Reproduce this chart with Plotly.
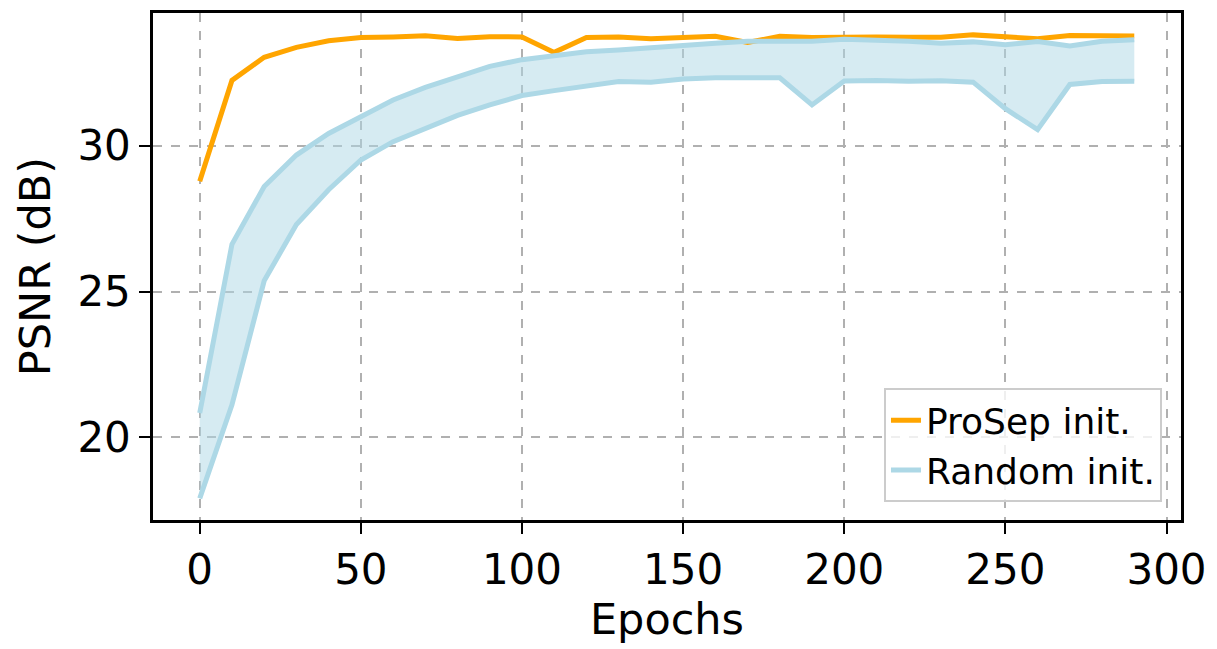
import plotly.graph_objects as go

epochs = list(range(0, 300, 10))

prosep = [28.78, 32.24, 33.03, 33.37, 33.60, 33.71, 33.73, 33.77, 33.68, 33.74,
          33.73, 33.20, 33.71, 33.73, 33.67, 33.72, 33.75, 33.54, 33.75, 33.71,
          33.73, 33.73, 33.72, 33.72, 33.80, 33.74, 33.67, 33.78, 33.76, 33.76]

random_upper = [20.84, 26.62, 28.60, 29.68, 30.42, 30.99, 31.57, 32.00, 32.38, 32.72,
                32.95, 33.09, 33.22, 33.28, 33.37, 33.42, 33.51, 33.58, 33.60, 33.58,
                33.65, 33.62, 33.58, 33.51, 33.56, 33.46, 33.57, 33.42, 33.58, 33.63]

random_lower = [17.91, 21.12, 25.37, 27.30, 28.49, 29.51, 30.14, 30.61, 31.04, 31.40,
                31.72, 31.89, 32.06, 32.20, 32.18, 32.29, 32.33, 32.33, 32.33, 31.40,
                32.22, 32.24, 32.21, 32.23, 32.18, 31.27, 30.55, 32.10, 32.20, 32.21]

x_ticks = [0, 50, 100, 150, 200, 250, 300]
y_ticks = [20, 25, 30]

ORANGE = "#FFA500"
BLUE = "#ADD8E6"
FONT = "DejaVu Sans"

fig = go.Figure()

# shaded band
fig.add_trace(go.Scatter(x=epochs, y=random_lower, mode="lines",
                         line=dict(width=0, color=BLUE), showlegend=False,
                         hoverinfo="skip"))
fig.add_trace(go.Scatter(x=epochs, y=random_upper, mode="lines",
                         line=dict(width=0, color=BLUE), fill="tonexty",
                         fillcolor="rgba(173,216,230,0.5)", showlegend=False,
                         hoverinfo="skip"))

fig.add_trace(go.Scatter(x=epochs, y=prosep, mode="lines", name="ProSep init.",
                         line=dict(color=ORANGE, width=5)))
fig.add_trace(go.Scatter(x=epochs, y=random_upper, mode="lines", name="Random init.",
                         line=dict(color=BLUE, width=5)))
fig.add_trace(go.Scatter(x=epochs, y=random_lower, mode="lines", showlegend=False,
                         line=dict(color=BLUE, width=5)))

axis_common = dict(
    showline=True, linecolor="black", linewidth=2.5, mirror=True,
    ticks="outside", ticklen=11, tickwidth=2, tickcolor="black",
    showgrid=True, gridcolor="#b0b0b0", griddash="dash", gridwidth=1.5,
    zeroline=False, tickfont=dict(family=FONT, size=42, color="black"),
)

fig.update_xaxes(range=[-14.5, 304.5], tickvals=x_ticks,
                 title=dict(text="Epochs", font=dict(family=FONT, size=43, color="black"),
                            standoff=10),
                 **axis_common)
fig.update_yaxes(range=[17.17, 34.55], tickvals=y_ticks,
                 title=dict(text="PSNR (dB)", font=dict(family=FONT, size=43, color="black"),
                            standoff=14),
                 **axis_common)

fig.update_layout(
    width=1217, height=649,
    margin=dict(l=153, r=35, t=10, b=129),
    plot_bgcolor="white", paper_bgcolor="white",
    font=dict(family=FONT, color="black"),
    legend=dict(x=0.9815, y=0.035, xanchor="right", yanchor="bottom",
                traceorder="normal",
                bgcolor="rgba(255,255,255,0.8)", bordercolor="#cccccc", borderwidth=2,
                font=dict(family=FONT, size=36, color="black"),
                tracegroupgap=4),
)

fig.write_html("out.html")
